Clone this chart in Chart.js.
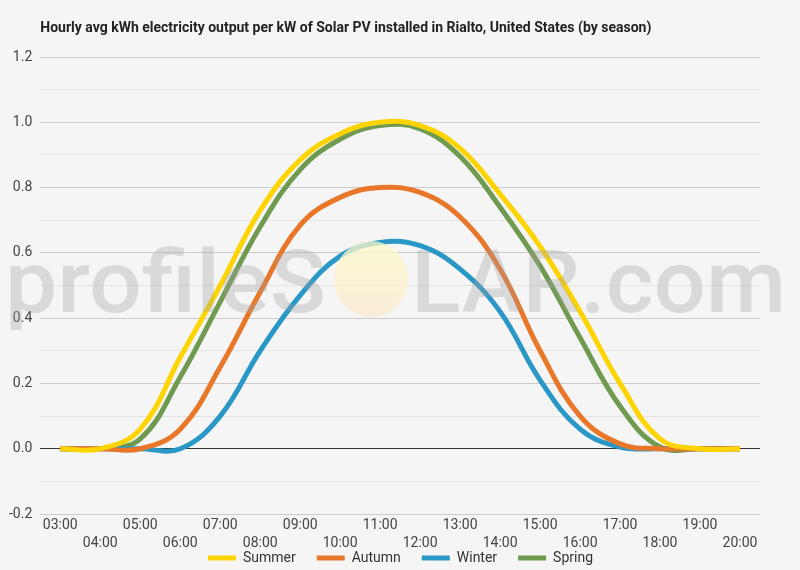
<!DOCTYPE html>
<html>
<head>
<meta charset="utf-8">
<script src="https://cdn.jsdelivr.net/npm/chart.js@4.4.1/dist/chart.umd.min.js"></script>
<style>
  html, body { margin: 0; padding: 0; background: #f5f5f5; }
  #wrap { width: 800px; height: 570px; }
</style>
</head>
<body>
<div id="wrap"><canvas id="chartCanvas"></canvas></div>
<script>
const hours = ['03:00', '04:00', '05:00', '06:00', '07:00', '08:00', '09:00', '10:00', '11:00',
  '12:00', '13:00', '14:00', '15:00', '16:00', '17:00', '18:00', '19:00', '20:00'];

const summer = [0, 0, 0.06, 0.28, 0.50, 0.73, 0.885, 0.965, 1.0, 0.99, 0.92, 0.78, 0.62, 0.42, 0.2, 0.03, 0, 0];
const autumn = [0, 0, 0, 0.06, 0.25, 0.48, 0.685, 0.77, 0.80, 0.785, 0.71, 0.55, 0.30, 0.10, 0.015, 0, 0, 0];
const winter = [0, 0, 0, 0, 0.1, 0.3, 0.47, 0.59, 0.632, 0.622, 0.55, 0.42, 0.21, 0.06, 0.005, 0, 0, 0];
const spring = [0, 0, 0.03, 0.22, 0.45, 0.68, 0.855, 0.948, 0.99, 0.98, 0.895, 0.74, 0.56, 0.34, 0.13, 0.005, 0, 0];

const titleText = 'Hourly avg kWh electricity output per kW of Solar PV installed in Rialto, United States (by season)';

function series(label, data, color) {
  return {
    label: label,
    data: data,
    borderColor: color,
    backgroundColor: color,
    borderWidth: 5,
    pointRadius: 0,
    tension: 0.4,
    fill: false
  };
}

// title at the left edge of the plot, plus the profileSOLAR watermark
const decorations = {
  id: 'decorations',
  afterLayout(chart) {
    // let the two-row hour labels run below the shrunken x axis box
    chart.scales.x.bottom = chart.height;
  },
  afterDatasetsDraw(chart) {
    const ctx = chart.ctx;
    ctx.save();
    ctx.font = '500 88px Roboto';
    ctx.textBaseline = 'alphabetic';
    ctx.fillStyle = 'rgba(160, 160, 160, 0.33)';
    const drawFit = (txt, x0, x1, base) => {
      const w = ctx.measureText(txt).width;
      ctx.save();
      ctx.translate(x0, base);
      ctx.scale((x1 - x0) / w, 1);
      ctx.fillText(txt, 0, 0);
      ctx.restore();
    };
    drawFit('profileS', 5, 326, 312);
    drawFit('LAR.com', 411, 786, 312);

    const grad = ctx.createLinearGradient(0, 240, 0, 317);
    grad.addColorStop(0, 'rgba(252, 250, 200, 0.75)');
    grad.addColorStop(1, 'rgba(250, 232, 205, 0.75)');
    ctx.fillStyle = grad;
    ctx.beginPath();
    ctx.ellipse(371, 279, 37, 38, 0, 0, Math.PI * 2);
    ctx.fill();
    ctx.restore();
  },
  afterDraw(chart) {
    const ctx = chart.ctx;
    ctx.save();
    ctx.font = 'bold 14px Roboto';
    ctx.fillStyle = '#222';
    ctx.textBaseline = 'middle';
    ctx.fillText(titleText, chart.chartArea.left, 28);
    ctx.restore();
  }
};

const ctx = document.getElementById('chartCanvas').getContext('2d');

window.chart = new Chart(ctx, {
  type: 'line',
  data: {
    labels: hours,
    datasets: [
      series('Summer', summer, '#fdd400'),
      series('Autumn', autumn, '#e8772a'),
      series('Winter', winter, '#2a98c6'),
      series('Spring', spring, '#6f9a4f')
    ]
  },
  plugins: [decorations],
  options: {
    responsive: true,
    maintainAspectRatio: false,
    animation: false,
    layout: {
      padding: { top: 57, left: 1, right: 0, bottom: 0 }
    },
    plugins: {
      title: { display: false },
      tooltip: { enabled: false },
      legend: {
        position: 'bottom',
        maxHeight: 40,
        labels: {
          boxWidth: 28,
          boxHeight: 5,
          padding: 21,
          color: '#333',
          font: { family: 'Roboto', size: 14 },
          generateLabels: chart => Chart.defaults.plugins.legend.labels.generateLabels(chart)
            .map(l => Object.assign(l, { lineWidth: 0 }))
        }
      }
    },
    scales: {
      x: {
        offset: true,
        grid: { display: false, drawTicks: false },
        border: { display: false },
        afterFit: scale => { scale.height = 16; },
        ticks: {
          autoSkip: false,
          maxRotation: 0,
          padding: 2,
          color: '#444',
          font: { family: 'Roboto', size: 14, lineHeight: 1.3 },
          callback: function (value, index) {
            const label = this.getLabelForValue(value);
            return index % 2 === 0 ? [label, ''] : ['', label];
          }
        }
      },
      y: {
        min: -0.2,
        max: 1.2,
        border: { display: false },
        grid: {
          drawTicks: false,
          lineWidth: 1,
          color: c => {
            const t = Math.round(c.tick.value * 10);
            if (t === 0) return '#333';
            return t % 2 === 0 ? '#cccccc' : '#e4e4e4';
          }
        },
        ticks: {
          stepSize: 0.1,
          padding: 8,
          color: '#444',
          font: { family: 'Roboto', size: 14 },
          callback: value => {
            const t = Math.round(value * 10);
            return t % 2 === 0 ? (t / 10).toFixed(1) : '';
          }
        }
      },
      // empty right-hand gutter so the legend stays centred on the page
      yRight: {
        position: 'right',
        grid: { display: false },
        border: { display: false },
        ticks: { display: false },
        afterFit: scale => { scale.width = 40; }
      }
    }
  }
});
</script>
</body>
</html>
